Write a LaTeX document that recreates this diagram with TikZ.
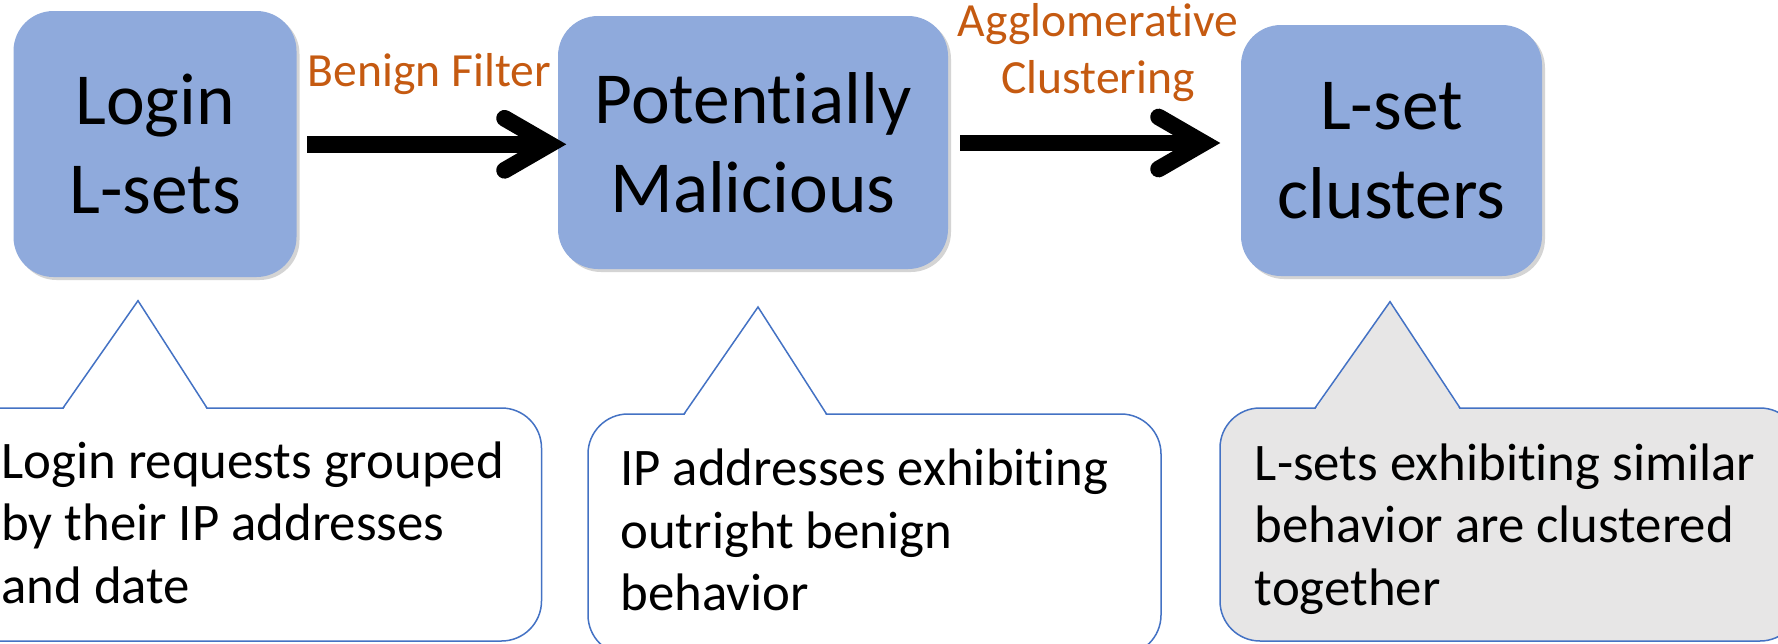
\documentclass[tikz,border=0pt]{standalone}
\usepackage{fontspec}
\setmainfont{Carlito}[Ligatures={NoCommon,NoContextual}]
\usetikzlibrary{calc,shadows}
\definecolor{boxblue}{HTML}{8FAADC}
\definecolor{lblorange}{HTML}{C55A11}
\definecolor{callblue}{HTML}{4472C4}
\definecolor{callgray}{HTML}{E7E6E6}
\tikzset{
  stage/.style={fill=boxblue, rounded corners=20pt, inner sep=0pt, align=center,
    font=\fontsize{36.7}{44.5}\selectfont,
    drop shadow={shadow xshift=1.5pt, shadow yshift=-1.5pt, opacity=0.28, fill=black!60}},
  callout/.style={draw=callblue, line width=0.75pt, rounded corners=20pt, inner sep=0pt},
  calltext/.style={anchor=west, align=left, inner sep=0pt, font=\fontsize{26.4}{31.25}\selectfont},
  steplabel/.style={text=lblorange, inner sep=0pt, align=center, font=\fontsize{23.8}{28.4}\selectfont},
  flowline/.style={line width=8.35pt, black},
  flowhead/.style={line width=8.35pt, black, line cap=round, line join=miter, miter limit=10},
  pointer/.style={draw=callblue, line width=0.75pt, line join=miter}
}
\begin{document}
\begin{tikzpicture}[x=0.5pt,y=-0.5pt]
\useasboundingbox (0,0) rectangle (1778,643);
\fill[white] (0,0) rectangle (1778,643);

% stages
\node[stage, minimum width=141.5pt, minimum height=133pt] (b1) at (155,144) {Login\\L-sets};
\node[stage, minimum width=195pt, minimum height=126.5pt] (b2) at (753,142.5) {Potentially\\Malicious};
\node[stage, minimum width=150.5pt, minimum height=125.5pt] (b3) at (1391.5,150.5) {L-set\\clusters};

% labels
\node[steplabel, anchor=base] (l1) at (429.5,86) {Benign Filter};
\node[steplabel, anchor=center] (l2) at (1098,52.4) {Agglomerative\\Clustering};

% arrows
\coordinate (a1s) at ($(b1.east)+(10.3,0.3)$);
\coordinate (a1e) at ($(b2.west |- a1s)+(-8,0)$);
\draw[flowline] (a1s) -- (a1e);
\draw[flowhead] ($(a1e)+(-45,-26)$) -- (a1e) -- ($(a1e)+(-45,26)$);

\coordinate (a2s) at ($(b2.east)+(12,0.5)$);
\coordinate (a2e) at ($(b3.west |- a2s)+(-37,0)$);
\draw[flowline] (a2s) -- (a2e);
\draw[flowhead] ($(a2e)+(-45,-26)$) -- (a2e) -- ($(a2e)+(-45,26)$);

% callouts
\node[callout, fill=white, minimum width=300.75pt, minimum height=116.5pt] (c1) at (240.75,524.5) {};
\fill[white] (63,410) -- (138,300.7) -- (207,410) -- cycle;
\draw[pointer] (63,408) -- (138,300.7) -- (207,408);
\node[calltext] (t1) at (1,522.5) {Login requests grouped\\by their IP addresses\\and date};

\node[callout, fill=white, minimum width=286.5pt, minimum height=120.5pt] (c2) at (874.5,534.5) {};
\fill[white] (684,416) -- (758,307) -- (826.5,416) -- cycle;
\draw[pointer] (684,414) -- (758,307) -- (826.5,414);
\node[calltext] (t2) at (620,530) {IP addresses exhibiting\\outright benign\\behavior};

\node[callout, fill=callgray, minimum width=290pt, minimum height=116.5pt] (c3) at (1510,524.5) {};
\fill[callgray] (1315,410) -- (1390,301.7) -- (1460,410) -- cycle;
\draw[pointer] (1315,408) -- (1390,301.7) -- (1460,408);
\node[calltext] (t3) at (1254.5,529) {L-sets exhibiting similar\\behavior are clustered\\together};
\end{tikzpicture}
\end{document}
